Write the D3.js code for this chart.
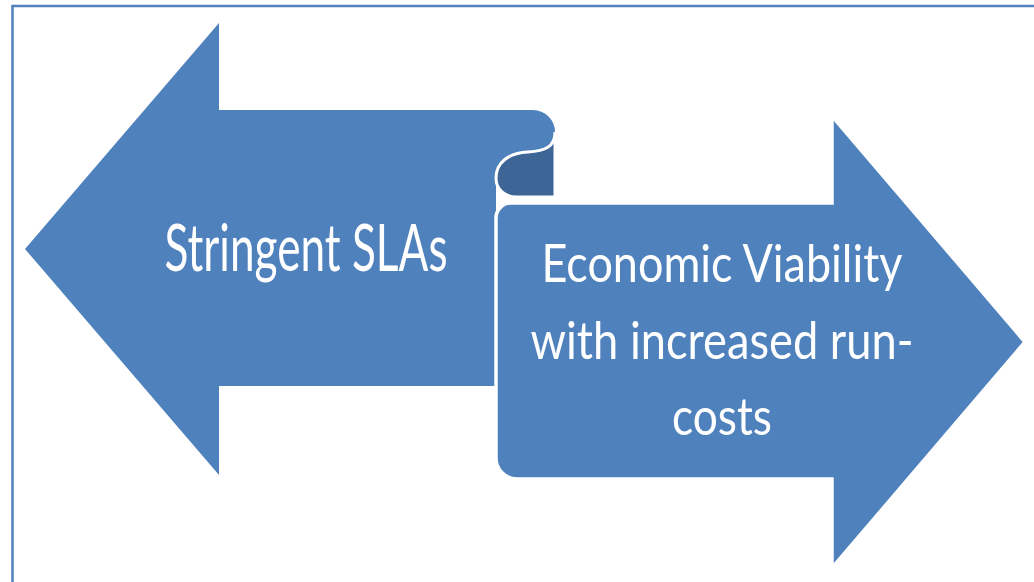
<!DOCTYPE html>
<html>
<head>
<meta charset="utf-8">
<script src="https://cdn.jsdelivr.net/npm/d3@7"></script>
<style>
  html, body { margin: 0; padding: 0; background: #fff; }
  svg { display: block; }
</style>
</head>
<body>
<svg id="diagram"></svg>
<script>
(function () {
    'use strict';

    // labels of the two opposing arrows
    var leftLines = ['Stringent SLAs'];
    var rightLines = ['Economic Viability', 'with increased run-', 'costs'];

    var width = 1034, height = 582;
    var blue = '#4F81BD', darkBlue = '#3D6696';

    var svg = d3.select('#diagram')
        .attr('width', width)
        .attr('height', height);

    // frame (right and bottom sides fall outside the picture)
    svg.append('rect')
        .attr('x', 12.5).attr('y', 6)
        .attr('width', 1040).attr('height', 600)
        .attr('fill', 'none')
        .attr('stroke', blue)
        .attr('stroke-width', 2.5);

    // left arrow, its shaft top ends in a rolled curl
    svg.append('path')
        .attr('d', 'M25,249 L219,23 L219,110 L533,110 A22,22 0 0 1 555,132 '
            + 'C555,147 545,151 528,152 C508,153 496,163 496,178 '
            + 'L496,386 L219,386 L219,475 Z')
        .attr('fill', blue);

    // back side of the curl
    svg.append('path')
        .attr('d', 'M555,132 C555,147 545,151 528,152 C508,153 496,163 496,178 '
            + 'C496,190 505,197 517,197 L555,197 Z')
        .attr('fill', darkBlue)
        .attr('stroke', '#fff')
        .attr('stroke-width', 3);

    // right arrow
    svg.append('path')
        .attr('d', 'M496,218 A15,15 0 0 1 511,203 L832,203 L832,116 L1025,342 '
            + 'L832,568 L832,479 L517,479 A21,21 0 0 1 496,458 Z')
        .attr('fill', blue)
        .attr('stroke', '#fff')
        .attr('stroke-width', 3.5);

    var font = 'Lato, "Open Sans", sans-serif';

    svg.append('g')
        .selectAll('text')
        .data(leftLines)
        .enter()
        .append('text')
        .attr('x', 306)
        .attr('y', function (d, i) { return 271 + i * 76; })
        .attr('text-anchor', 'middle')
        .attr('font-family', font)
        .attr('font-size', 66)
        .attr('fill', '#fff')
        .attr('textLength', 283)
        .attr('lengthAdjust', 'spacingAndGlyphs')
        .text(function (d) { return d; });

    var rightWidths = [361, 383, 100];

    svg.append('g')
        .selectAll('text')
        .data(rightLines)
        .enter()
        .append('text')
        .attr('x', 722)
        .attr('y', function (d, i) { return 282 + i * 76.5; })
        .attr('text-anchor', 'middle')
        .attr('font-family', font)
        .attr('font-size', 53)
        .attr('fill', '#fff')
        .attr('textLength', function (d, i) { return rightWidths[i]; })
        .attr('lengthAdjust', 'spacingAndGlyphs')
        .text(function (d) { return d; });
})();
</script>
</body>
</html>
